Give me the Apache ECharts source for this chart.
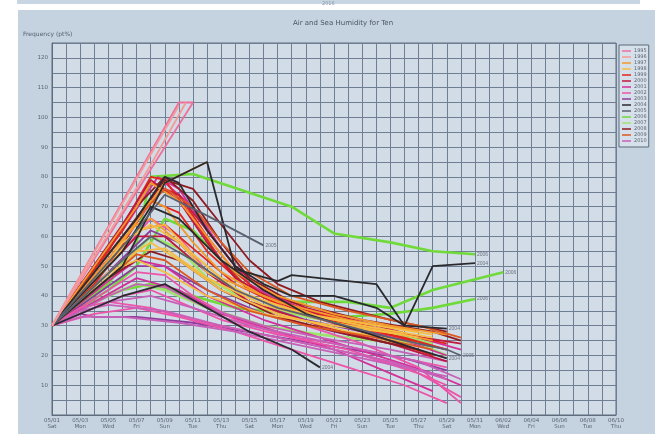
<!DOCTYPE html>
<html>
<head>
<meta charset="utf-8">
<script src="https://cdn.jsdelivr.net/npm/echarts/dist/echarts.min.js"></script>
<style>
html, body { margin: 0; padding: 0; background: #ffffff; }
#chart { width: 655px; height: 434px; }
</style>
</head>
<body>
<div id="chart"></div>
<script>
// Tick labels along the bottom (one every two grid steps)
const tickLabels = [
  '05/01\nSat', '05/03\nMon', '05/05\nWed', '05/07\nFri', '05/09\nSun', '05/11\nTue',
  '05/13\nThu', '05/15\nSat', '05/17\nMon', '05/19\nWed', '05/21\nFri', '05/23\nSun',
  '05/25\nTue', '05/27\nThu', '05/29\nSat', '05/31\nMon', '06/02\nWed', '06/04\nFri',
  '06/06\nSun', '06/08\nTue', '06/10\nThu'
];

// Legend entries (one per season)
const seasons = ['1995', '1996', '1997', '1998', '1999', '2000', '2001', '2002',
                 '2003', '2004', '2005', '2006', '2007', '2008', '2009', '2010'];

// Each curve: [step, frequency] vertices
const tallRise = [
  { name: '1995', pts: [[0, 30], [9, 105], [10, 105]] },
  { name: '1995', pts: [[0, 30], [10, 105]] },
  { name: '1996', pts: [[0, 30], [7, 84], [9.5, 105]] },
  { name: '1996', pts: [[0, 30], [9, 104]] }
];

const orangeCurves = [
  { name: '1997', pts: [[0, 30], [6, 70], [7, 78], [9, 72], [11, 60], [13, 48], [16, 40], [20, 34], [24, 30], [28, 27]] },
  { name: '1997', pts: [[0, 30], [5, 58], [7, 72], [8, 70], [10, 58], [12, 48], [15, 40], [19, 33], [23, 29], [27, 25]] },
  { name: '1997', pts: [[0, 30], [4, 52], [8, 78], [11, 85]] },
  { name: '1997', pts: [[0, 30], [4, 54], [6, 64], [7, 66], [9, 58], [12, 46], [16, 38], [21, 32], [26, 28]] },
  { name: '1998', pts: [[0, 30], [4, 50], [6, 62], [8, 64], [10, 54], [13, 42], [17, 35], [22, 30], [27, 26]] },
  { name: '1998', pts: [[0, 30], [5, 52], [7, 58], [9, 52], [12, 42], [16, 34], [21, 28], [26, 24]] },
  { name: '1998', pts: [[0, 30], [3, 42], [6, 55], [8, 56], [11, 46], [15, 37], [20, 31], [26, 26]] },
  { name: '1998', pts: [[0, 30], [3, 45], [5, 58], [7, 64], [9, 58], [11, 48], [14, 40], [18, 34], [23, 30], [27, 27]] },
  { name: '1998', pts: [[0, 30], [2, 38], [4, 48], [6, 52], [8, 48], [11, 40], [15, 34], [20, 30], [25, 27]] },
  { name: '2009', pts: [[0, 30], [6, 66], [8, 76], [10, 70], [12, 58], [14, 48], [17, 40], [21, 35], [26, 30], [29, 26]] },
  { name: '2009', pts: [[0, 30], [4, 46], [6, 54], [8, 52], [11, 42], [14, 35], [18, 30], [23, 26], [27, 22]] }
];

const redCurves = [
  { name: '1999', pts: [[0, 30], [4, 55], [7, 80], [8, 79], [10, 66], [12, 52], [14, 42], [17, 35], [21, 30], [25, 26], [28, 22]] },
  { name: '1999', pts: [[0, 30], [5, 62], [7, 78], [9, 74], [11, 60], [13, 48], [15, 40], [19, 34], [24, 28], [28, 24]] },
  { name: '1999', pts: [[0, 30], [4, 50], [7, 72], [9, 68], [11, 55], [14, 42], [18, 34], [23, 28], [28, 22]] },
  { name: '1999', pts: [[0, 30], [3, 44], [6, 62], [8, 64], [10, 56], [13, 44], [17, 35], [22, 28], [27, 20]] },
  { name: '2000', pts: [[0, 30], [5, 64], [7, 79], [9, 72], [11, 58], [13, 46], [16, 38], [20, 32], [25, 27], [29, 24]] },
  { name: '2000', pts: [[0, 30], [4, 50], [6, 60], [8, 60], [11, 48], [14, 38], [19, 30], [24, 24], [28, 18]] },
  { name: '2000', pts: [[0, 30], [5, 58], [7.5, 76], [9, 74], [11, 62], [13, 50], [15, 42], [18, 36], [23, 30], [27, 25]] },
  { name: '2008', pts: [[0, 30], [6, 70], [8, 80], [10, 72], [12, 58], [14, 46], [17, 38], [22, 32], [27, 28], [29, 25]] },
  { name: '2008', pts: [[0, 30], [4, 46], [7, 55], [9, 52], [12, 42], [16, 33], [21, 27], [26, 22]] },
  { name: '2008', pts: [[0, 30], [5, 60], [8, 79], [10, 76], [12, 64], [14, 52], [16, 44], [19, 38], [24, 32], [28, 28]] }
];

const pinkCurves = [
  { name: '2001', pts: [[0, 30], [5, 62], [7.5, 80], [9, 76], [11, 62], [13, 50], [15, 42], [18, 35], [22, 30], [26, 26], [29, 22]] },
  { name: '2001', pts: [[0, 30], [5, 58], [8, 78], [10, 70], [12, 56], [14, 44], [17, 36], [21, 30], [25, 25], [28, 20]] },
  { name: '2001', pts: [[0, 30], [4, 45], [6, 52], [8, 50], [11, 40], [15, 32], [19, 26], [23, 20], [27, 14], [29, 10]] },
  { name: '2001', pts: [[0, 30], [3, 38], [6, 46], [9, 42], [12, 34], [16, 28], [20, 22], [24, 14], [27, 8]] },
  { name: '2002', pts: [[0, 30], [5, 55], [7, 66], [9, 60], [11, 48], [14, 38], [18, 30], [22, 24], [26, 16], [28, 8], [29, 4]] },
  { name: '2002', pts: [[0, 30], [4, 42], [6, 48], [8, 47], [10, 40], [13, 32], [17, 26], [21, 22], [25, 16], [28, 10]] },
  { name: '2002', pts: [[0, 30], [3, 36], [5, 40], [7, 42], [9, 38], [12, 32], [16, 27], [20, 24], [24, 20], [28, 16]] },
  { name: '2002', pts: [[0, 30], [2, 36], [4, 38], [7, 36], [10, 32], [14, 28], [18, 24], [22, 20], [26, 14], [29, 6]] },
  { name: '2002', pts: [[0, 30], [3, 34], [6, 36], [9, 33], [13, 28], [17, 22], [21, 16], [25, 10], [28, 4]] },
  { name: '2010', pts: [[0, 30], [2, 35], [4, 37], [8, 35], [12, 30], [16, 26], [20, 22], [24, 18], [28, 12]] },
  { name: '2010', pts: [[0, 30], [2, 33], [5, 33], [9, 31], [13, 28], [17, 24], [21, 20], [25, 16], [28, 13]] },
  { name: '2010', pts: [[0, 30], [4, 40], [6, 44], [8, 43], [11, 36], [15, 30], [19, 26], [24, 22], [28, 18]] },
  { name: '2010', pts: [[0, 30], [4, 38], [7, 40], [10, 36], [14, 30], [18, 26], [22, 22], [26, 18], [29, 12]] }
];

const purpleCurves = [
  { name: '2003', pts: [[0, 30], [2, 34], [3, 33], [6, 33], [10, 31], [15, 27], [20, 23], [25, 19], [28, 15]] },
  { name: '2003', pts: [[0, 30], [4, 48], [7, 62], [9, 58], [11, 48], [14, 38], [18, 32], [23, 27], [27, 23]] },
  { name: '2003', pts: [[0, 30], [3, 40], [6, 50], [8, 50], [11, 42], [15, 34], [20, 28], [26, 22]] }
];

const darkCurves = [
  { name: '2004', pts: [[0, 30], [5, 50], [8, 78], [11, 85], [13, 49], [16, 45], [17, 47], [23, 44], [25, 30], [27, 50], [30, 51]] },
  { name: '2004', pts: [[0, 30], [6, 66], [8, 80], [9, 78], [11, 62], [13, 50], [15, 44], [17, 40], [20, 40], [23, 36], [25, 30], [28, 29]] },
  { name: '2004', pts: [[0, 30], [5, 55], [7, 70], [9, 66], [12, 52], [15, 42], [18, 34], [22, 28], [26, 22], [28, 19]] },
  { name: '2004', pts: [[0, 30], [5, 40], [8, 44], [11, 36], [14, 28], [17, 22], [19, 16]] },
  { name: '2005', pts: [[0, 30], [6, 62], [8, 74], [11, 67], [15, 57]] },
  { name: '2005', pts: [[0, 30], [5, 52], [7, 60], [10, 52], [13, 42], [16, 36], [20, 31], [24, 26], [28, 22], [29, 20]] }
];

const greenCurves = [
  { name: '2006', pts: [[0, 30], [4, 44], [6, 58], [7, 80], [10, 81], [17, 70], [20, 61], [24, 58], [27, 55], [30, 54]] },
  { name: '2006', pts: [[0, 30], [4, 42], [6, 50], [8, 66], [10, 62], [12, 52], [14, 42], [17, 38], [21, 38], [24, 36], [27, 42], [32, 48]] },
  { name: '2006', pts: [[0, 30], [3, 38], [5, 42], [7, 44], [10, 40], [13, 36], [17, 34], [21, 33], [24, 34], [27, 36], [30, 39]] },
  { name: '2007', pts: [[0, 30], [4, 40], [6, 44], [8, 42], [11, 36], [15, 30], [19, 27], [23, 25], [26, 24], [28, 20]] },
  { name: '2007', pts: [[0, 30], [5, 50], [7, 60], [9, 56], [11, 46], [14, 38], [18, 33], [22, 30], [27, 24]] }
];

// Line colour per season
const seasonColors = {
  '1995': '#ef6f9c', '1996': '#f49a9a', '1997': '#f39a2c', '1998': '#f5bd45',
  '1999': '#e3241e', '2000': '#c3163f', '2001': '#d3309a', '2002': '#ec54a9',
  '2003': '#8d3c9e', '2004': '#2a2a2e', '2005': '#5a6070', '2006': '#6fda3a',
  '2007': '#9ee46c', '2008': '#8e1b22', '2009': '#dc5a22', '2010': '#c760b8'
};

const labelled = new Set(['2004', '2005', '2006']);

const allCurves = [].concat(greenCurves, purpleCurves, pinkCurves, redCurves, orangeCurves, darkCurves, tallRise);

const series = allCurves.map(c => ({
  type: 'line',
  name: c.name,
  data: c.pts,
  symbol: 'none',
  silent: true,
  animation: false,
  lineStyle: {
    width: (c.name === '2006' || c.name === '2007') ? 2.6 : 1.8,
    color: seasonColors[c.name]
  },
  itemStyle: { color: seasonColors[c.name] },
  endLabel: labelled.has(c.name) ? {
    show: true, formatter: '{a}', fontSize: 5, color: '#6a7280', distance: 2
  } : { show: false }
}));

const chart = echarts.init(document.getElementById('chart'), null, { renderer: 'canvas' });

chart.setOption({
  backgroundColor: '#ffffff',
  animation: false,
  graphic: [
    { type: 'rect', z: -10, shape: { x: 17, y: 0, width: 623, height: 4 }, style: { fill: '#c7d6e2' } },
    { type: 'text', z: -9, left: 322, top: 1, style: { text: '2016', font: '5px DejaVu Sans', fill: '#8a96a4' } },
    { type: 'rect', z: -10, shape: { x: 18, y: 10, width: 637, height: 424 }, style: { fill: '#c4d3df' } },
    { type: 'text', left: 23, top: 31, style: { text: 'Frequency (pt%)', font: '6px DejaVu Sans', fill: '#55606e' } }
  ],
  title: {
    text: 'Air and Sea Humidity for Ten',
    left: 338, top: 15, textAlign: 'center',
    textStyle: { fontSize: 7, fontWeight: 'normal', color: '#4a5462', fontFamily: 'DejaVu Sans' }
  },
  legend: {
    data: seasons.map(n => ({ name: n, icon: 'rect' })),
    orient: 'vertical',
    left: 619, top: 45,
    itemWidth: 9, itemHeight: 1.5, itemGap: 0,
    padding: [3, 2, 3, 3],
    backgroundColor: '#d6e0ea',
    borderColor: '#5f6b7a', borderWidth: 1,
    selectedMode: false,
    textStyle: { fontSize: 5, lineHeight: 6, color: '#5a6470', fontFamily: 'DejaVu Sans', padding: [0, 0, 0, -2] }
  },
  grid: {
    left: 52, right: 39, top: 43, bottom: 19,
    show: true, backgroundColor: '#d2dce6', borderColor: '#5e6c7e', borderWidth: 1
  },
  xAxis: {
    type: 'value', min: 0, max: 40, interval: 1,
    axisLine: { show: true, lineStyle: { color: '#5e6c7e' } },
    axisTick: { show: false },
    splitLine: { show: true, lineStyle: { color: '#6f7e92', width: 1 } },
    axisLabel: {
      fontSize: 5.5, lineHeight: 6, color: '#5a6470', margin: 3, fontFamily: 'DejaVu Sans',
      formatter: v => (v % 2 === 0 ? tickLabels[v / 2] : '')
    }
  },
  yAxis: {
    type: 'value', min: 0, max: 125, interval: 5,
    axisLine: { show: true, lineStyle: { color: '#5e6c7e' } },
    axisTick: { show: false },
    splitLine: { show: true, lineStyle: { color: '#6f7e92', width: 1 } },
    axisLabel: {
      fontSize: 5.5, color: '#5a6470', margin: 4, fontFamily: 'DejaVu Sans',
      formatter: v => (v > 0 && v % 10 === 0 ? String(v) : '')
    }
  },
  series: series
});
</script>
</body>
</html>
